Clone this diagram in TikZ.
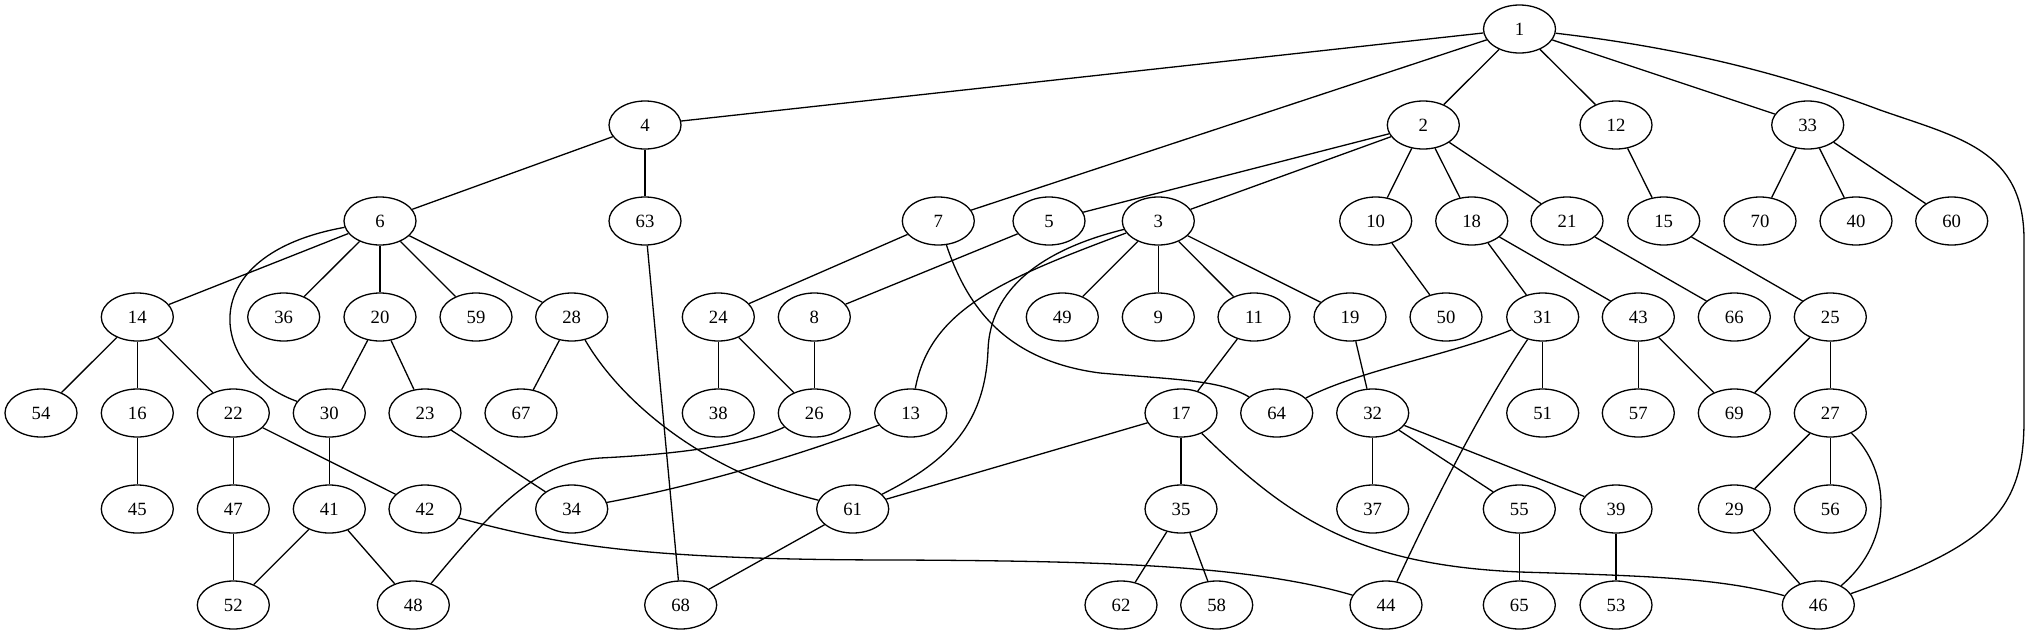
\documentclass[tikz,border=0pt]{standalone}
\usepackage{fontspec}
\setmainfont{Liberation Serif}
\usetikzlibrary{shapes.geometric}
\tikzset{
  nd/.style={ellipse, draw, line width=1.3pt, minimum width=72pt, minimum height=48pt, inner sep=0pt, font=\fontsize{18.7}{20}\selectfont},
  ed/.style={line width=1.3pt}
}
\begin{document}
\begin{tikzpicture}[x=1pt,y=-1pt]
\useasboundingbox (0,0) rectangle (2031,635);
% row 0
\node[nd] (n1) at (1519.5,29) {1};
% row 1
\node[nd] (n4) at (645,125) {4};
\node[nd] (n2) at (1423.3,125) {2};
\node[nd] (n12) at (1616,125) {12};
\node[nd] (n33) at (1807.7,125) {33};
% row 2
\node[nd] (n6) at (380,221) {6};
\node[nd] (n63) at (645,221) {63};
\node[nd] (n7) at (938.3,221) {7};
\node[nd] (n5) at (1049,221) {5};
\node[nd] (n3) at (1158.3,221) {3};
\node[nd] (n10) at (1375.7,221) {10};
\node[nd] (n18) at (1471.7,221) {18};
\node[nd] (n21) at (1567,221) {21};
\node[nd] (n15) at (1663.7,221) {15};
\node[nd] (n70) at (1760,221) {70};
\node[nd] (n40) at (1856,221) {40};
\node[nd] (n60) at (1951.7,221) {60};
% row 3
\node[nd] (n14) at (137.3,317) {14};
\node[nd] (n36) at (283.7,317) {36};
\node[nd] (n20) at (380,317) {20};
\node[nd] (n59) at (476,317) {59};
\node[nd] (n28) at (571.7,317) {28};
\node[nd] (n24) at (718.3,317) {24};
\node[nd] (n8) at (814.3,317) {8};
\node[nd] (n49) at (1062.3,317) {49};
\node[nd] (n9) at (1158.3,317) {9};
\node[nd] (n11) at (1254,317) {11};
\node[nd] (n19) at (1350,317) {19};
\node[nd] (n50) at (1446,317) {50};
\node[nd] (n31) at (1542.7,317) {31};
\node[nd] (n43) at (1638.3,317) {43};
\node[nd] (n66) at (1734.3,317) {66};
\node[nd] (n25) at (1830.3,317) {25};
% row 4
\node[nd] (n54) at (41,413) {54};
\node[nd] (n16) at (137.3,413) {16};
\node[nd] (n22) at (233.3,413) {22};
\node[nd] (n30) at (329.3,413) {30};
\node[nd] (n23) at (425,413) {23};
\node[nd] (n67) at (521,413) {67};
\node[nd] (n38) at (718.3,413) {38};
\node[nd] (n26) at (814.3,413) {26};
\node[nd] (n13) at (910.7,413) {13};
\node[nd] (n17) at (1181,413) {17};
\node[nd] (n64) at (1276.7,413) {64};
\node[nd] (n32) at (1372.7,413) {32};
\node[nd] (n51) at (1542.7,413) {51};
\node[nd] (n57) at (1638.3,413) {57};
\node[nd] (n69) at (1734.3,413) {69};
\node[nd] (n27) at (1830.3,413) {27};
% row 5
\node[nd] (n45) at (137.3,509) {45};
\node[nd] (n47) at (233.3,509) {47};
\node[nd] (n41) at (329.3,509) {41};
\node[nd] (n42) at (425,509) {42};
\node[nd] (n34) at (571.7,509) {34};
\node[nd] (n61) at (852.7,509) {61};
\node[nd] (n35) at (1181,509) {35};
\node[nd] (n37) at (1372.7,509) {37};
\node[nd] (n55) at (1519.3,509) {55};
\node[nd] (n39) at (1616,509) {39};
\node[nd] (n29) at (1734.3,509) {29};
\node[nd] (n56) at (1830.3,509) {56};
% row 6
\node[nd] (n52) at (233.3,605) {52};
\node[nd] (n48) at (413.3,605) {48};
\node[nd] (n68) at (680.7,605) {68};
\node[nd] (n62) at (1121,605) {62};
\node[nd] (n58) at (1216.7,605) {58};
\node[nd] (n44) at (1386,605) {44};
\node[nd] (n65) at (1519.3,605) {65};
\node[nd] (n53) at (1616,605) {53};
\node[nd] (n46) at (1818.3,605) {46};
% straight edges
\draw[ed] (n1) -- (n4);
\draw[ed] (n1) -- (n7);
\draw[ed] (n1) -- (n2);
\draw[ed] (n1) -- (n12);
\draw[ed] (n1) -- (n33);
\draw[ed] (n4) -- (n6);
\draw[ed] (n4) -- (n63);
\draw[ed] (n2) -- (n5);
\draw[ed] (n2) -- (n3);
\draw[ed] (n2) -- (n10);
\draw[ed] (n2) -- (n18);
\draw[ed] (n2) -- (n21);
\draw[ed] (n12) -- (n15);
\draw[ed] (n33) -- (n70);
\draw[ed] (n33) -- (n40);
\draw[ed] (n33) -- (n60);
\draw[ed] (n6) -- (n14);
\draw[ed] (n6) -- (n36);
\draw[ed] (n6) -- (n20);
\draw[ed] (n6) -- (n59);
\draw[ed] (n6) -- (n28);
\draw[ed] (n63) -- (n68);
\draw[ed] (n7) -- (n24);
\draw[ed] (n5) -- (n8);
\draw[ed] (n3) -- (n49);
\draw[ed] (n3) -- (n9);
\draw[ed] (n3) -- (n11);
\draw[ed] (n3) -- (n19);
\draw[ed] (n10) -- (n50);
\draw[ed] (n18) -- (n31);
\draw[ed] (n18) -- (n43);
\draw[ed] (n21) -- (n66);
\draw[ed] (n15) -- (n25);
\draw[ed] (n14) -- (n54);
\draw[ed] (n14) -- (n16);
\draw[ed] (n14) -- (n22);
\draw[ed] (n20) -- (n30);
\draw[ed] (n20) -- (n23);
\draw[ed] (n28) -- (n67);
\draw[ed] (n24) -- (n38);
\draw[ed] (n24) -- (n26);
\draw[ed] (n8) -- (n26);
\draw[ed] (n11) -- (n17);
\draw[ed] (n19) -- (n32);
\draw[ed] (n31) -- (n51);
\draw[ed] (n43) -- (n57);
\draw[ed] (n43) -- (n69);
\draw[ed] (n25) -- (n69);
\draw[ed] (n25) -- (n27);
\draw[ed] (n16) -- (n45);
\draw[ed] (n22) -- (n47);
\draw[ed] (n22) -- (n42);
\draw[ed] (n30) -- (n41);
\draw[ed] (n23) -- (n34);
\draw[ed] (n17) -- (n61);
\draw[ed] (n17) -- (n35);
\draw[ed] (n32) -- (n37);
\draw[ed] (n32) -- (n55);
\draw[ed] (n32) -- (n39);
\draw[ed] (n27) -- (n29);
\draw[ed] (n27) -- (n56);
\draw[ed] (n47) -- (n52);
\draw[ed] (n41) -- (n52);
\draw[ed] (n41) -- (n48);
\draw[ed] (n61) -- (n68);
\draw[ed] (n35) -- (n62);
\draw[ed] (n35) -- (n58);
\draw[ed] (n55) -- (n65);
\draw[ed] (n39) -- (n53);
\draw[ed] (n29) -- (n46);
% curved edges
\draw[ed] (n1) .. controls (1700,50) and (1800,80) .. (1880,110) .. controls (1960,138) and (2024,150) .. (2024,240) -- (2024,420) .. controls (2024,510) and (1990,545) .. (n46);
\draw[ed] (n6) .. controls (190,255) and (210,370) .. (n30);
\draw[ed] (n7) .. controls (965,300) and (1000,360) .. (1100,373) .. controls (1180,380) and (1220,380) .. (n64);
\draw[ed] (n3) .. controls (1040,250) and (990,290) .. (988,350) .. controls (985,430) and (940,465) .. (n61);
\draw[ed] (n3) .. controls (1000,280) and (930,310) .. (n13);
\draw[ed] (n28) .. controls (620,400) and (700,470) .. (n61);
\draw[ed] (n26) .. controls (740,448) and (660,455) .. (600,458) .. controls (540,462) and (500,500) .. (n48);
\draw[ed] (n13) .. controls (800,455) and (700,485) .. (n34);
\draw[ed] (n42) .. controls (560,545) and (640,560) .. (900,560) .. controls (1100,561) and (1250,565) .. (n44);
\draw[ed] (n17) .. controls (1290,520) and (1360,565) .. (1520,572) .. controls (1650,576) and (1720,578) .. (n46);
\draw[ed] (n31) .. controls (1480,410) and (1430,510) .. (n44);
\draw[ed] (n31) .. controls (1450,355) and (1360,370) .. (n64);
\draw[ed] (n27) .. controls (1890,470) and (1895,540) .. (n46);
\end{tikzpicture}
\end{document}
